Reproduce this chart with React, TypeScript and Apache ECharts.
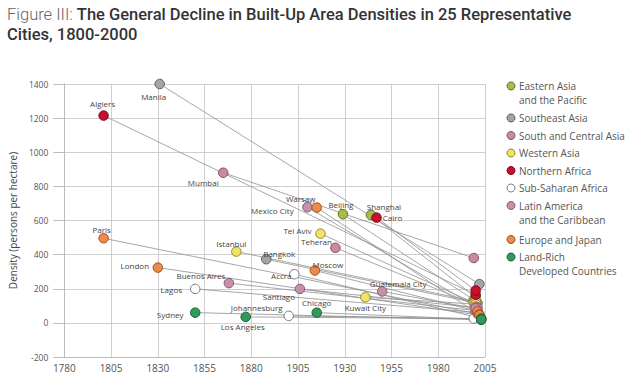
import { useEffect, useRef } from "react";
import * as echarts from "echarts";

const X0 = 1780;
const xTickLabels = [1780, 1805, 1830, 1855, 1880, 1905, 1930, 1955, 1980, 2005];
const yTickLabels = [-200, 0, 200, 400, 600, 800, 1000, 1200, 1400];

const regionKeys = ["EA", "SEA", "SCA", "WA", "NA", "SSA", "LA", "EJ", "LR"];
const regionNames = [
  "Eastern Asia\nand the Pacific",
  "Southeast Asia",
  "South and Central Asia",
  "Western Asia",
  "Northern Africa",
  "Sub-Saharan Africa",
  "Latin America\nand the Caribbean",
  "Europe and Japan",
  "Land-Rich\nDeveloped Countries",
];
const regionFill = ["#a7bd4a", "#a5a5a5", "#c98a9c", "#efe36c", "#c8102e", "#ffffff", "#c790a9", "#ec8a4c", "#2f9a5c"];
const regionBorder = ["#5f7224", "#5e5e5e", "#8a4e62", "#8d8a2a", "#7a0a1c", "#7a7a7a", "#8a5676", "#9c4f1e", "#1b5e36"];

const cities = [
  "Manila", "Algiers", "Mumbai", "Mexico City", "Warsaw", "Beijing", "Shanghai", "Cairo",
  "Tel Aviv", "Teheran", "Istanbul", "Bangkok", "Moscow", "Accra", "Paris", "London",
  "Buenos Aires", "Lagos", "Sydney", "Los Angeles", "Johannesburg", "Santiago", "Chicago",
  "Kuwait City", "Guatemala City",
];
const cityRegion = [
  "SEA", "NA", "SCA", "LA", "EJ", "EA", "EA", "NA",
  "WA", "SCA", "WA", "SEA", "EJ", "SSA", "EJ", "EJ",
  "LA", "SSA", "LR", "LR", "SSA", "LA", "LR",
  "WA", "LA",
];
const startYear = [
  1831, 1801, 1865, 1910, 1915, 1929, 1944, 1947,
  1917, 1925, 1872, 1888, 1914, 1903, 1801, 1830,
  1868, 1850, 1850, 1877, 1900, 1906, 1915,
  1941, 1950,
];
const startDensity = [
  1400, 1215, 880, 678, 676, 637, 633, 617,
  523, 440, 418, 373, 307, 285, 496, 324,
  233, 199, 60, 35, 41, 199, 60,
  150, 184,
];
const endYear = [
  2002, 2000, 1999, 2000, 2001, 1999, 2000, 2000,
  1999, 2000, 2000, 2001, 2001, 2000, 2002, 2002,
  2000, 2000, 2003, 2003, 1999, 2001, 2003,
  2000, 2000,
];
const endDensity = [
  227, 165, 380, 95, 55, 135, 150, 190,
  118, 105, 125, 115, 68, 35, 50, 45,
  72, 62, 18, 25, 25, 88, 20,
  110, 85,
];

// label placement (offset of label centre from the start marker), in px
const labelOffset: Record<string, [number, number]> = {
  Manila: [-6, 12], Algiers: [-1, -12], Mumbai: [-20, 10], "Mexico City": [-35, 3],
  Warsaw: [-16, -9], Beijing: [-2, -10], Shanghai: [13, -8], Cairo: [16, 0],
  "Tel Aviv": [-23, -3], Teheran: [-19, -6], Istanbul: [-5, -8], Bangkok: [13, -6],
  Moscow: [13, -6], Accra: [-13, 1], Paris: [-2, -9], London: [-23, -2],
  "Buenos Aires": [-28, -8], Lagos: [-24, 1], Sydney: [-25, 2], "Los Angeles": [-3, 10],
  Johannesburg: [-32, -8], Santiago: [-21, 8], Chicago: [0, -10], "Kuwait City": [0, 10],
  "Guatemala City": [16, -8],
};

const FONT = "'Open Sans', 'Noto Sans', sans-serif";
const TITLE_FONT = "Roboto, 'Open Sans', sans-serif";

export default function App() {
  const ref = useRef<HTMLDivElement>(null);
  useEffect(() => {
    document.body.style.margin = "0";
    if (!ref.current) return;
    const chart = echarts.init(ref.current, undefined, { renderer: "svg" });

    const lineSeries = cities.map((c, i) => ({
      type: "line",
      name: c + "-line",
      silent: true,
      symbol: "none",
      z: 1,
      lineStyle: { color: "#909090", width: 0.8 },
      data: [
        [startYear[i] - X0, startDensity[i]],
        [endYear[i] - X0, endDensity[i]],
      ],
    }));

    const scatterSeries = regionKeys.map((rk, ri) => {
      const data: any[] = [];
      cities.forEach((c, i) => {
        if (cityRegion[i] !== rk) return;
        data.push({ value: [endYear[i] - X0, endDensity[i]], name: c });
      });
      cities.forEach((c, i) => {
        if (cityRegion[i] !== rk) return;
        data.push({
          value: [startYear[i] - X0, startDensity[i]],
          name: c,
          label: {
            show: true,
            position: "inside",
            offset: labelOffset[c],
            formatter: c,
            fontSize: 8,
            fontFamily: FONT,
            color: "#444",
          },
        });
      });
      return {
        type: "scatter",
        name: regionNames[ri],
        z: 3,
        symbolSize: 9.5,
        itemStyle: { color: regionFill[ri], borderColor: regionBorder[ri], borderWidth: 1, opacity: 1 },
        data,
      };
    });

    // legend
    const legendEls: any[] = [];
    let ly = 86;
    regionNames.forEach((n, i) => {
      legendEls.push({
        type: "circle",
        shape: { cx: 511, cy: ly, r: 4 },
        style: { fill: regionFill[i], stroke: regionBorder[i], lineWidth: 1 },
      });
      legendEls.push({
        type: "text",
        x: 519,
        y: ly - 7,
        style: { text: n, fontSize: 10, lineHeight: 14, fill: "#555", fontFamily: FONT },
      });
      const lines = n.split("\n").length;
      ly += i === 0 ? 32 : lines === 2 ? 34 : 17.5;
    });

    chart.setOption({
      animation: false,
      backgroundColor: "#fff",
      title: {
        left: 7,
        top: 5,
        padding: 0,
        text:
          "{a|Figure III: }{b|The General Decline in Built-Up Area Densities in 25 Representative}\n{b|Cities, 1800-2000}",
        textStyle: {
          rich: {
            a: { fontSize: 16.5, color: "#666", fontFamily: TITLE_FONT, fontWeight: 300, lineHeight: 19.5 },
            b: { fontSize: 16.5, color: "#333", fontFamily: TITLE_FONT, fontWeight: 500, lineHeight: 19.5 },
          },
        },
      },
      grid: { left: 62, right: 155, top: 84, bottom: 28 },
      xAxis: {
        type: "value",
        min: 0,
        max: xTickLabels[xTickLabels.length - 1] - X0,
        interval: 25,
        axisLine: { show: true, onZero: false, lineStyle: { color: "#bbb" } },
        axisTick: { show: false },
        splitLine: { show: true, lineStyle: { color: "#cfcfcf", width: 1 } },
        axisLabel: { formatter: (v: number) => String(v + X0), fontSize: 10, color: "#555", fontFamily: FONT, margin: 6 },
      },
      yAxis: {
        type: "value",
        min: yTickLabels[0],
        max: yTickLabels[yTickLabels.length - 1],
        interval: 200,
        name: "Density (persons per hectare)",
        nameLocation: "middle",
        nameGap: 42,
        nameTextStyle: { fontSize: 10, color: "#444", fontFamily: FONT },
        axisLine: { show: true, lineStyle: { color: "#bbb" } },
        axisTick: { show: true, length: 11, lineStyle: { color: "#bbb" } },
        splitLine: { show: true, lineStyle: { color: "#cfcfcf", width: 1 } },
        axisLabel: { formatter: (v: number) => String(v), fontSize: 8.5, color: "#555", fontFamily: FONT, margin: 16 },
      },
      graphic: legendEls,
      series: [...lineSeries, ...scatterSeries],
    });
    return () => chart.dispose();
  }, []);
  return <div ref={ref} style={{ position: "fixed", left: 0, top: 0, width: 640, height: 385 }} />;
}
